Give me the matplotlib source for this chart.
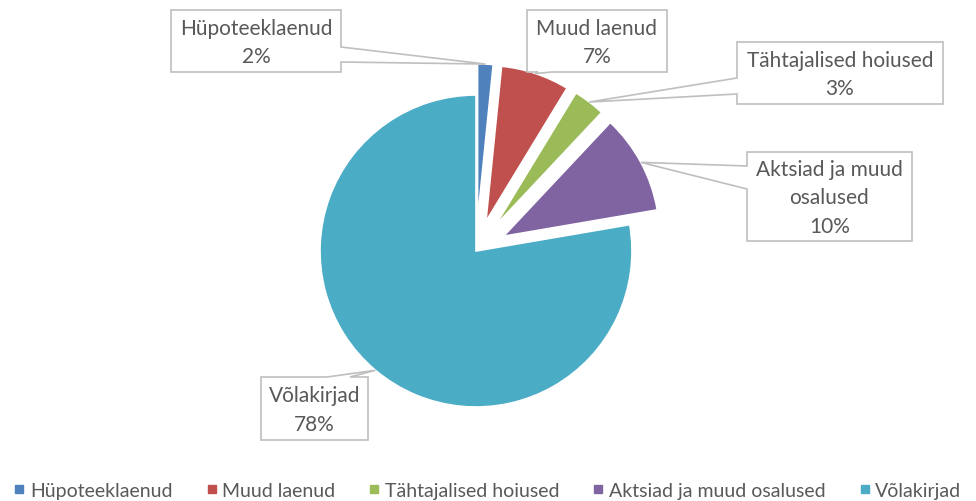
import numpy as np
import matplotlib.pyplot as plt
from matplotlib.patches import Polygon
from matplotlib.lines import Line2D

plt.rcParams['font.family'] = ['Lato', 'DejaVu Sans']

# data
categories = ["Hüpoteeklaenud", "Muud laenud", "Tähtajalised hoiused",
              "Aktsiad ja muud osalused", "Võlakirjad"]
box_text = ["Hüpoteeklaenud", "Muud laenud", "Tähtajalised hoiused",
            "Aktsiad ja muud\nosalused", "Võlakirjad"]
values = [1.6, 7.1, 3.3, 10.3, 77.7]
colors = ['#4F81BD', '#C0504D', '#9BBB59', '#8064A2', '#4BACC6']
explode = [0.2, 0.2, 0.2, 0.2, 0.0]

W, H = 976, 502
cx, cy, R = 476, 252, 156   # pie centre and radius in pixels

def px(x, y):
    # pixel position -> data units (pie radius = 1)
    return (x - cx) / R, (cy - y) / R

# callout boxes in pixels: x0, y0, x1, y1, side of the wedge, wedge base (from, to)
boxes = [
    (171, 11, 341, 73, 'right', (48, 63)),
    (527, 11, 667, 73, 'bottom', (538, 552)),
    (737, 43, 943, 105, 'left', (79, 95)),
    (747, 153, 912, 242, 'left', (167, 190)),
    (261, 378, 368, 441, 'top', (327, 350)),
]

fig = plt.figure(figsize=(W / 100, H / 100), dpi=100)
ax = fig.add_axes([0, 0, 1, 1])

wedges, _ = ax.pie(values, colors=colors, explode=explode, startangle=90,
                   counterclock=False, radius=1,
                   wedgeprops=dict(edgecolor='white', linewidth=1.2))

total = sum(values)
for i, w in enumerate(wedges):
    mid = np.deg2rad((w.theta1 + w.theta2) / 2)
    ox, oy = w.center
    tip = (ox + np.cos(mid), oy + np.sin(mid))
    x0, y0, x1, y1, side, (b0, b1) = boxes[i]
    if side == 'right':
        pts = [(x0, y0), (x1, y0), (x1, b0), None, (x1, b1), (x1, y1), (x0, y1)]
    elif side == 'left':
        pts = [(x0, y0), (x1, y0), (x1, y1), (x0, y1), (x0, b1), None, (x0, b0)]
    elif side == 'bottom':
        pts = [(x0, y0), (x1, y0), (x1, y1), (b1, y1), None, (b0, y1), (x0, y1)]
    else:
        pts = [(x0, y0), (b0, y0), None, (b1, y0), (x1, y0), (x1, y1), (x0, y1)]
    poly = [tip if p is None else px(*p) for p in pts]
    ax.add_patch(Polygon(poly, closed=True, facecolor='white',
                         edgecolor='#BFBFBF', linewidth=1.2, zorder=3))
    pct = "%d%%" % round(values[i] / total * 100)
    tx, ty = px((x0 + x1) / 2, (y0 + y1) / 2 + 1)
    ax.text(tx, ty, box_text[i] + "\n" + pct, ha='center', va='center',
            fontsize=15, color='#595959', linespacing=1.55, zorder=4)

ax.set_xlim(px(0, 0)[0], px(W, 0)[0])
ax.set_ylim(px(0, H)[1], px(0, 0)[1])
ax.set_aspect('auto')
ax.axis('off')

handles = [Line2D([], [], marker='s', linestyle='', markersize=5.5,
                  color=c) for c in colors]
fig.legend(handles, categories, loc='lower center', ncol=5,
           bbox_to_anchor=(0.5, -0.03), frameon=False, fontsize=14,
           handlelength=0.5, handletextpad=0.3, columnspacing=1.75,
           labelcolor='#595959')

plt.savefig("out.png", dpi=100)
